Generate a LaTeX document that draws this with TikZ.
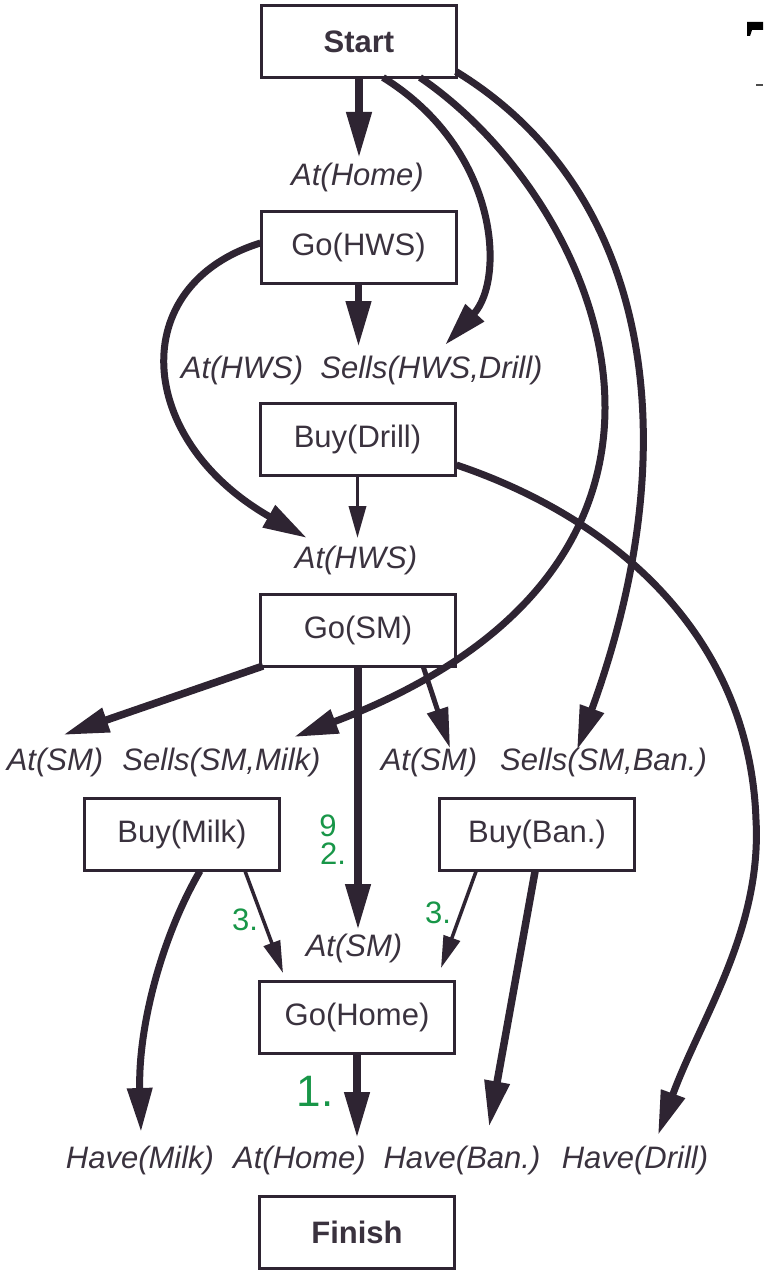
\documentclass[tikz,border=0pt]{standalone}
\usepackage{fontspec}
\setmainfont{Liberation Sans}
\usetikzlibrary{arrows.meta,calc}
\definecolor{ink}{RGB}{46,36,50}
\definecolor{txt}{RGB}{58,50,62}
\definecolor{hand}{RGB}{24,150,72}
\begin{document}
\begin{tikzpicture}[x=1pt,y=-1pt,
  box/.style={draw=ink,fill=white,line width=3pt,minimum width=195pt,minimum height=72pt,inner sep=0pt,text=txt,font=\fontsize{31}{36}\selectfont},
  boldbox/.style={box,font=\fontsize{31}{36}\selectfont\bfseries},
  lab/.style={inner sep=0pt,text=txt,font=\fontsize{31}{36}\selectfont\itshape},
  hw/.style={inner sep=0pt,text=hand,font=\fontsize{31}{36}\selectfont},
  bigarrow/.style={draw=ink,line width=7.5pt,-{Triangle[length=46pt,width=24pt]}},
  curvearrow/.style={draw=ink,line width=7pt,-{Triangle[length=44pt,width=24pt]}},
  midarrow/.style={draw=ink,line width=5pt,-{Triangle[length=40pt,width=21pt]}},
  thinarrow/.style={draw=ink,line width=3.5pt,-{Triangle[length=32pt,width=17pt]}},
]
\useasboundingbox (0,0) rectangle (763,1271);
\fill[white] (0,0) rectangle (763,1271);

% nodes
\node[boldbox] (start) at (359,41.5) {Start};
\node[lab] (athome1) at (357.5,177) {At(Home)};
\node[box] (gohws) at (358.5,247) {Go(HWS)};
\node[lab] (athws1) at (242,370) {At(HWS)};
\node[lab] (sellshws) at (431.5,370) {Sells(HWS,Drill)};
\node[box] (buydrill) at (357.5,439) {Buy(Drill)};
\node[lab] (athws2) at (356,560) {At(HWS)};
\node[box] (gosm) at (358,630) {Go(SM)};
\node[lab] (atsm1) at (55,762) {At(SM)};
\node[lab] (sellsmilk) at (221.5,762) {Sells(SM,Milk)};
\node[lab] (atsm2) at (429,762) {At(SM)};
\node[lab] (sellsban) at (603.5,762) {Sells(SM,Ban.)};
\node[box] (buymilk) at (182,834) {Buy(Milk)};
\node[box] (buyban) at (537,834.5) {Buy(Ban.)};
\node[lab] (atsm3) at (354,948) {At(SM)};
\node[box] (gohome) at (357,1017) {Go(Home)};
\node[lab] (havemilk) at (140,1160) {Have(Milk)};
\node[lab] (athome2) at (299.5,1160) {At(Home)};
\node[lab] (haveban) at (462,1160) {Have(Ban.)};
\node[lab] (havedrill) at (635,1160) {Have(Drill)};
\node[boldbox] (finish) at (357,1232) {Finish};

% connectors
\draw[bigarrow] (start.south) -- ($(athome1.center)+(1.5,-19)$);
\draw[curvearrow] ($(start.center)+(24,36)$) .. controls (500,150) and (505,280) .. ($(sellshws.center)+(13.5,-25)$);
\draw[curvearrow] ($(start.center)+(61,36)$) .. controls (600,200) and (760,560) .. ($(sellsmilk.center)+(72.5,-25)$);
\draw[curvearrow] ($(start.center)+(97,30)$) .. controls (650,190) and (690,440) .. ($(sellsban.center)+(-26.5,-12)$);
\draw[bigarrow] (gohws.south) -- ($(sellshws.center)+(-73,-23)$);
\draw[curvearrow] ($(gohws.center)+(-98,-4)$) .. controls (125,285) and (135,440) .. ($(athws2.center)+(-49,-22)$);
\draw[thinarrow] (buydrill.south) -- ($(athws2.center)+(1.5,-22)$);
\draw[curvearrow] ($(buydrill.center)+(99,26)$) .. controls (620,520) and (750,640) .. (756,820) .. controls (762,930) and (700,1020) .. ($(havedrill.center)+(23,-25)$);
\draw[bigarrow] ($(gosm.center)+(-95,36)$) -- ($(atsm1.center)+(8,-27)$);
\draw[midarrow] ($(gosm.center)+(65,36)$) -- ($(atsm2.center)+(21,-14)$);
\draw[bigarrow] (gosm.south) -- ($(atsm3.center)+(4,-18)$);
\draw[thinarrow] ($(buymilk.center)+(63,37)$) -- ($(gohome.center)+(-74,-44)$);
\draw[thinarrow] ($(buyban.center)+(-61,37)$) -- ($(gohome.center)+(84,-49)$);
\draw[curvearrow] ($(buymilk.center)+(18,37)$) .. controls (160,940) and (138,1030) .. ($(havemilk.center)+(1,-28)$);
\draw[bigarrow] ($(buyban.center)+(-2,37)$) -- ($(haveban.center)+(27,-33)$);
\draw[bigarrow] (gohome.south) -- ($(athome2.center)+(57.5,-22)$);

% handwritten annotations
\node[hw] (n9) at (328,826) {9};
\node[hw] (n2) at (333,854) {2.};
\node[hw] (n3a) at (245,920) {3.};
\node[hw] (n3b) at (438,913) {3.};
\node[hw,font=\fontsize{44}{48}\selectfont] (n1) at (315,1091) {1.};

% scan fragment at top right
\fill[black] (747,22) -- (763,22) -- (763,30) -- (752,30) -- (750,36) -- (747,36) -- cycle;
\fill[black!70] (756,84) rectangle (763,86);
\end{tikzpicture}
\end{document}
